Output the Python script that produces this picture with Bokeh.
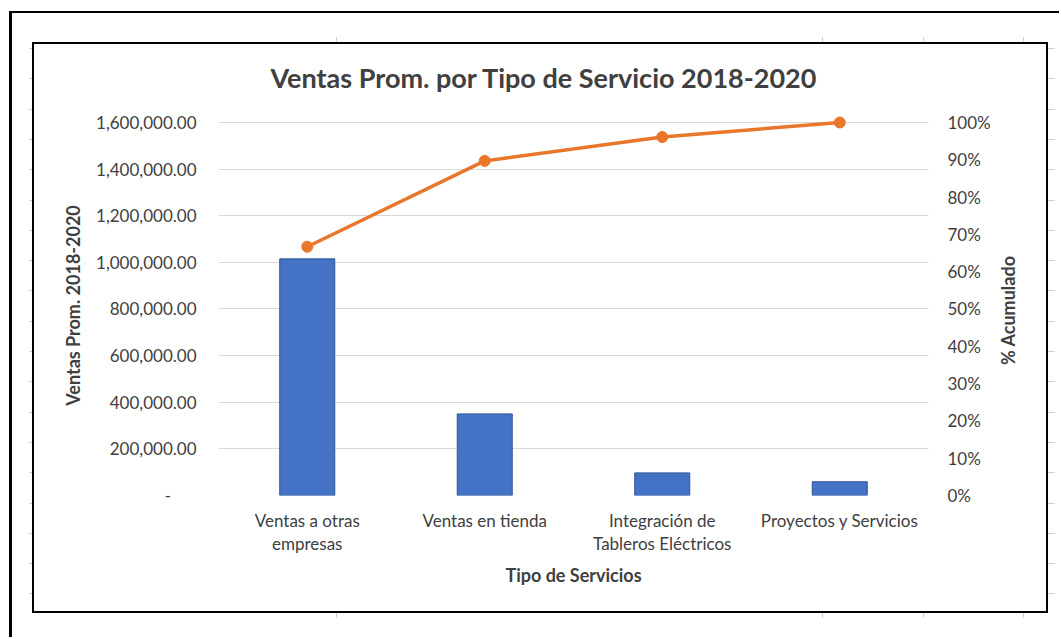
import math
from bokeh.plotting import figure
from bokeh.layouts import column
from bokeh.models import (Range1d, LinearAxis, FixedTicker,
                          NumeralTickFormatter, Title)
from bokeh.embed import file_html
from bokeh.resources import INLINE

# ---- data ----
categories = ["Ventas a otras empresas", "Ventas en tienda",
              "Integración de Tableros Eléctricos", "Proyectos y Servicios"]
label_line1 = ["Ventas a otras", "Ventas en tienda", "Integración de",
               "Proyectos y Servicios"]
label_line2 = ["empresas", " ", "Tableros Eléctricos", " "]
ventas = [1015000, 350000, 97000, 59000]
acumulado = [0.667, 0.897, 0.961, 1.0]
left_ticks = [0, 200000, 400000, 600000, 800000, 1000000, 1200000, 1400000, 1600000]
right_ticks = [0, 0.1, 0.2, 0.3, 0.4, 0.5, 0.6, 0.7, 0.8, 0.9, 1.0]

FONT = "Lato"
TXT = "#404040"
BAR = "#4472C4"
BAR_EDGE = "#2F5597"
LINE = "#E8762B"
TICK_FS = "17px"
AXL_FS = "18px"

W, H = 1059, 637

# category slots on a numeric axis (one unit per category)
xpos = [i + 0.5 for i in range(len(categories))]

# a little headroom above the top gridline so the 100% marker is not clipped
HEAD = 1.01875
p = figure(width=W, height=H, output_backend="svg", toolbar_location=None,
           x_range=Range1d(0, len(categories)),
           y_range=Range1d(0, left_ticks[-1] * HEAD),
           min_border_left=218, min_border_right=W - 928,
           min_border_top=115, min_border_bottom=H - 495)
p.extra_y_ranges = {"pct": Range1d(0, right_ticks[-1] * HEAD)}
p.outline_line_color = None
p.background_fill_alpha = 0
p.border_fill_alpha = 0

p.vbar(x=xpos, top=ventas, width=0.31, fill_color=BAR,
       line_color=BAR_EDGE, line_width=1)
p.line(x=xpos, y=acumulado, y_range_name="pct", line_width=3.5, color=LINE)
p.scatter(x=xpos, y=acumulado, y_range_name="pct", size=11,
          fill_color=LINE, line_color=LINE)

p.xgrid.grid_line_color = None
p.ygrid.grid_line_color = "#D9D9D9"
p.ygrid.grid_line_width = 1
p.ygrid.ticker = FixedTicker(ticks=left_ticks)


def style_axis(ax, standoff, label_standoff):
    ax.axis_line_color = None
    ax.major_tick_line_color = None
    ax.minor_tick_line_color = None
    ax.major_label_standoff = standoff
    ax.axis_label_standoff = label_standoff
    ax.major_label_text_font = FONT
    ax.major_label_text_font_size = TICK_FS
    ax.major_label_text_color = TXT
    ax.axis_label_text_font = FONT
    ax.axis_label_text_font_size = AXL_FS
    ax.axis_label_text_font_style = "bold"
    ax.axis_label_text_color = TXT


# left axis
ya = p.yaxis[0]
ya.ticker = FixedTicker(ticks=left_ticks)
ya.formatter = NumeralTickFormatter(format="0,0.00")
ya.major_label_overrides = {0: "-\u2003\u2003"}
ya.axis_label = "Ventas Prom. 2018-2020"
style_axis(ya, 16, 9)

# right axis (label reads bottom-to-top, as in the reference)
ra = LinearAxis(y_range_name="pct", ticker=FixedTicker(ticks=right_ticks),
                formatter=NumeralTickFormatter(format="0%"))
style_axis(ra, 13, 14)
ra.axis_label_orientation = math.pi / 2
if "axis_label_align" in LinearAxis.properties():
    ra.axis_label_align = "start"
    ra.axis_label = "\u2003" * 9 + "\u2002" + "% Acumulado"
else:
    ra.axis_label = "% Acumulado"
p.add_layout(ra, "right")

# x axis: two stacked axes for the two lines of each category label
xa = p.xaxis[0]
xa.ticker = FixedTicker(ticks=xpos)
xa.major_label_overrides = dict(zip(xpos, label_line1))
style_axis(xa, 8, 0)
xb = LinearAxis(ticker=FixedTicker(ticks=xpos))
xb.major_label_overrides = dict(zip(xpos, label_line2))
xb.axis_label = "Tipo de Servicios"
style_axis(xb, -7, 7)
p.add_layout(xb, "below")

# title
p.title.text = "Ventas Prom. por Tipo de Servicio 2018-2020"
p.title.align = "left"
p.title.offset = 52
p.title.text_font = FONT
p.title.text_font_size = "27px"
p.title.text_font_style = "bold"
p.title.text_color = TXT
if "standoff" in Title.properties():
    p.title.standoff = 44

# ---- decoration: sheet frame, chart frame and cell-grid stubs (CSS) ----
layers = []


def css_line(x, y, w, h, color):
    layers.append(f"linear-gradient({color},{color}) {x}px {y}px / {w}px {h}px no-repeat")


BLACK = "#000000"
STUB = "#D0D0D0"
css_line(9, 11, 3, 700, BLACK)        # outer left
css_line(9, 11, 1100, 2, BLACK)       # outer top
css_line(32, 42, 2, 571, BLACK)       # chart left
css_line(1046, 42, 2, 571, BLACK)     # chart right
css_line(32, 42, 1016, 2, BLACK)      # chart top
css_line(32, 611, 1016, 2, BLACK)     # chart bottom
for k in range(19):
    y = round(48 + 30.3 * k, 1)
    css_line(29, y, 3, 1, STUB)
    css_line(1048, y, 7, 1, STUB)
for x in (336, 822, 923, 1023):
    css_line(x, 37, 1, 5, STUB)
    css_line(x, 613, 1, 5, STUB)

page = column(p, styles={"background": ", ".join(layers) + ", #ffffff"})

open("out.html", "w").write(file_html(page, INLINE))
